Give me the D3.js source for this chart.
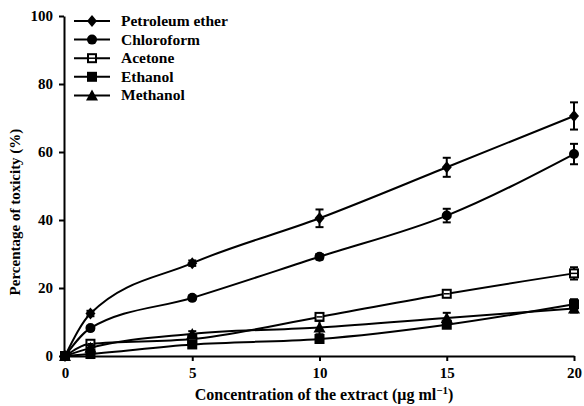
<!DOCTYPE html>
<html>
<head>
<meta charset="utf-8">
<script src="https://cdn.jsdelivr.net/npm/d3@7"></script>
<style>
body { margin: 0; background: #fff; }
.axis path, .axis line { stroke: #000; stroke-width: 2; }
.curve { fill: none; stroke: #000; stroke-width: 2; }
</style>
</head>
<body>
<svg width="584" height="406"></svg>
<script>
var conc = [0, 1, 5, 10, 15, 20];
var petroleum = [0, 12.5, 27.3, 40.5, 55.5, 70.6];
var petroleumErr = [0.8, 0.8, 0.8, 2.6, 2.8, 4.0];
var chloroform = [0, 8.2, 17.1, 29.2, 41.3, 59.4];
var chloroformErr = [0.8, 0.6, 0.6, 0.8, 2.0, 3.0];
var acetone = [0, 3.6, 5.0, 11.5, 18.3, 24.3];
var acetoneErr = [0.6, 0.6, 0.6, 0.8, 0.8, 1.8];
var ethanol = [0, 0.6, 3.4, 5.0, 9.2, 15.2];
var ethanolErr = [0.6, 1.2, 0.8, 1.0, 0.8, 1.5];
var methanol = [0, 2.4, 6.5, 8.4, 11.2, 14.0];
var methanolErr = [0.6, 0.8, 0.8, 2.0, 1.5, 1.2];
var seriesNames = ["Petroleum ether", "Chloroform", "Acetone", "Ethanol", "Methanol"];
var markers = ["diamond", "circle", "openSquare", "square", "triangle"];
var xTicks = [0, 5, 10, 15, 20];
var yTicks = [0, 20, 40, 60, 80, 100];

var series = [
    {name: seriesNames[0], vals: petroleum, err: petroleumErr, mark: markers[0]},
    {name: seriesNames[1], vals: chloroform, err: chloroformErr, mark: markers[1]},
    {name: seriesNames[2], vals: acetone, err: acetoneErr, mark: markers[2]},
    {name: seriesNames[3], vals: ethanol, err: ethanolErr, mark: markers[3]},
    {name: seriesNames[4], vals: methanol, err: methanolErr, mark: markers[4]}
];

var serif = "'Liberation Serif'";
var svg = d3.select("svg");

var scaleX = d3.scaleLinear().domain([0, 20]).range([65, 574]);
var scaleY = d3.scaleLinear().domain([0, 100]).range([356, 16]);

function setFont(sel, size) {
    sel.style("font-family", serif)
        .style("font-weight", "bold")
        .style("font-size", size + "px");
}

// axes
var xAxisG = svg.append("g")
    .attr("class", "axis")
    .attr("transform", "translate(0,356)")
    .call(d3.axisBottom(scaleX).tickValues(xTicks).tickSize(5).tickSizeOuter(0).tickPadding(6));
xAxisG.attr("font-family", null);
setFont(xAxisG.selectAll("text"), 15);

var yAxisG = svg.append("g")
    .attr("class", "axis")
    .attr("transform", "translate(64,0)")
    .call(d3.axisLeft(scaleY).tickValues(yTicks).tickSize(5).tickSizeOuter(0).tickPadding(6));
yAxisG.attr("font-family", null);
setFont(yAxisG.selectAll("text"), 15);

// draw a marker at (0,0)
function drawMarker(g, type) {
    if (type === "diamond") {
        g.append("path").attr("d", "M0,-6L5,0L0,6L-5,0Z").attr("fill", "#000");
    } else if (type === "circle") {
        g.append("circle").attr("r", 5).attr("fill", "#000");
    } else if (type === "openSquare") {
        g.append("rect").attr("x", -4).attr("y", -4).attr("width", 8).attr("height", 8)
            .attr("fill", "#fff").attr("stroke", "#000").attr("stroke-width", 2);
        g.append("line").attr("x1", -3).attr("x2", 3).attr("stroke", "#000").attr("stroke-width", 1.5);
    } else if (type === "square") {
        g.append("rect").attr("x", -5).attr("y", -5).attr("width", 10).attr("height", 10).attr("fill", "#000");
    } else if (type === "triangle") {
        g.append("path").attr("d", "M0,-6L6,5L-6,5Z").attr("fill", "#000");
    }
}

var line = d3.line()
    .x(function(d) { return scaleX(d[0]); })
    .y(function(d) { return scaleY(d[1]); })
    .curve(d3.curveMonotoneX);

series.forEach(function(s) {
    var pts = conc.map(function(c, i) { return [c, s.vals[i], s.err[i]]; });
    var g = svg.append("g");
    g.append("path").attr("class", "curve").attr("d", line(pts));

    // error bars
    pts.forEach(function(p) {
        var x = scaleX(p[0]);
        var y1 = scaleY(p[1] - p[2]), y2 = scaleY(p[1] + p[2]);
        g.append("line").attr("x1", x).attr("x2", x).attr("y1", y1).attr("y2", y2)
            .attr("stroke", "#000").attr("stroke-width", 2);
        [y1, y2].forEach(function(y) {
            g.append("line").attr("x1", x - 4).attr("x2", x + 4).attr("y1", y).attr("y2", y)
                .attr("stroke", "#000").attr("stroke-width", 2);
        });
    });

    pts.forEach(function(p) {
        var m = g.append("g").attr("transform", "translate(" + scaleX(p[0]) + "," + scaleY(p[1]) + ")");
        drawMarker(m, s.mark);
    });
});

// legend
var legend = svg.append("g").attr("transform", "translate(74,21)");
series.forEach(function(s, i) {
    var row = legend.append("g").attr("transform", "translate(0," + (i * 18.6) + ")");
    row.append("line").attr("x1", 0).attr("x2", 36).attr("stroke", "#000").attr("stroke-width", 2);
    drawMarker(row.append("g").attr("transform", "translate(18,0)"), s.mark);
    var t = row.append("text").attr("x", 47).attr("y", 5).text(s.name);
    setFont(t, 15.5);
});

// axis titles
var xt = svg.append("text")
    .attr("x", 324).attr("y", 400)
    .attr("text-anchor", "middle");
setFont(xt, 16);
xt.append("tspan").text("Concentration of the extract (\u03bcg ml");
xt.append("tspan").style("font-size", "11px").attr("dy", -6).text("\u22121");
xt.append("tspan").attr("dy", 6).text(")");

var yt = svg.append("text")
    .attr("transform", "translate(20,212) rotate(-90)")
    .attr("text-anchor", "middle")
    .text("Percentage of toxicity (%)");
setFont(yt, 15);
</script>
</body>
</html>
